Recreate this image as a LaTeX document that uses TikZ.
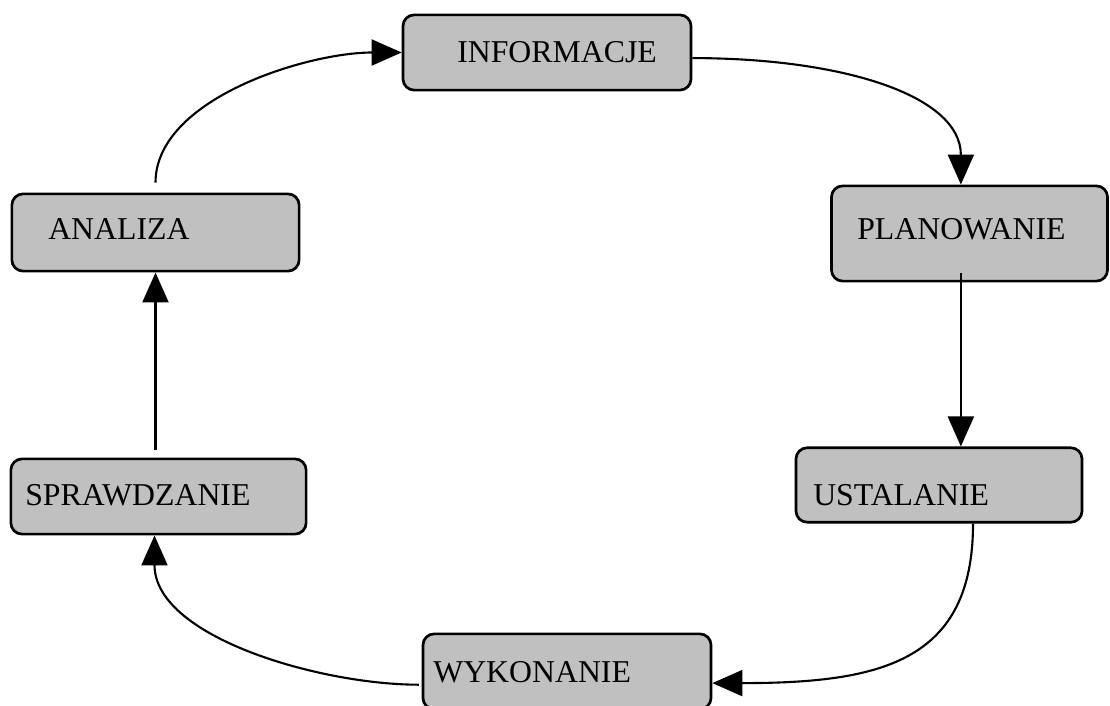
\documentclass[tikz,border=0pt]{standalone}
\usepackage{fontspec}
\setmainfont{Liberation Serif}
\usetikzlibrary{arrows.meta}
\definecolor{boxgray}{RGB}{192,192,192}
\begin{document}
\begin{tikzpicture}[x=0.025cm, y=0.025cm,
		box/.style={draw, line width=1.9pt, fill=boxgray, rounded corners=0.28cm, inner sep=0pt},
		lbl/.style={inner sep=0pt, anchor=base west, font=\fontsize{22.6}{27}\selectfont},
		flow/.style={line width=1.5pt, -{Triangle[length=0.75cm, width=0.65cm]}}]
	\useasboundingbox (0,0) rectangle (1110,705);

	\node[box, minimum width=7.2cm, minimum height=1.88cm] (inf) at (547,652.5) {};
	\node[box, minimum width=6.9cm, minimum height=2.38cm] (plan) at (969.5,471.5) {};
	\node[box, minimum width=7.15cm, minimum height=1.86cm] (ust) at (939,220) {};
	\node[box, minimum width=7.2cm, minimum height=1.88cm] (wyk) at (567,33.5) {};
	\node[box, minimum width=7.38cm, minimum height=1.88cm] (spr) at (158.5,208.5) {};
	\node[box, minimum width=7.18cm, minimum height=1.93cm] (ana) at (155.5,472.5) {};

	\node[lbl] (tinf) at (457,642) {INFORMACJE};
	\node[lbl] (tplan) at (857,465) {PLANOWANIE};
	\node[lbl] (tust) at (813,200) {USTALANIE};
	\node[lbl] (twyk) at (433,23) {WYKONANIE};
	\node[lbl] (tspr) at (25,200) {SPRAWDZANIE};
	\node[lbl] (tana) at (48,465) {ANALIZA};

	\draw[flow, shorten <=7pt] (ana.north) to[out=90, in=180, looseness=0.85] (inf.west);
	\draw[flow] ([yshift=-0.14cm]inf.east) to[out=0, in=90, out looseness=1.29, in looseness=0.77] (plan.100);
	\draw[flow, shorten <=-7pt] (plan.260) -- (plan.260 |- ust.north);
	\draw[flow] ([xshift=0.85cm]ust.south) to[out=-90, in=0, out looseness=1.16, in looseness=1.41] ([yshift=-0.29cm]wyk.east);
	\draw[flow, shorten <=2pt] ([yshift=-0.33cm]wyk.west) to[out=180, in=-90, looseness=0.85] ([xshift=-0.1cm]spr.south);
	\draw[flow, shorten <=5.7pt] (ana.south |- spr.north) -- (ana.south);
\end{tikzpicture}
\end{document}
